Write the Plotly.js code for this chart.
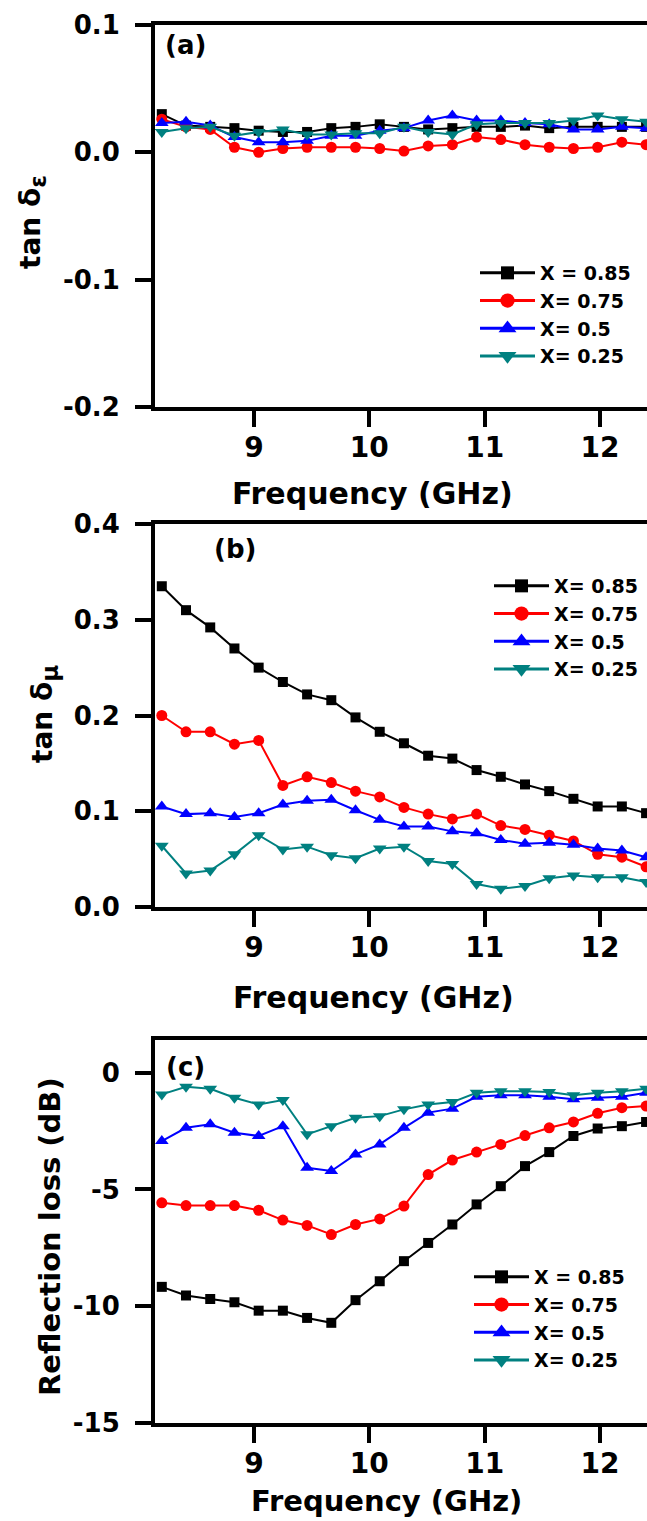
<!DOCTYPE html>
<html><head><meta charset="utf-8">
<script src="https://cdn.plot.ly/plotly-3.0.1.min.js"></script>
<style>html,body{margin:0;padding:0;background:#fff}#chart{width:647px;height:1521px}</style>
</head><body><div id="chart"></div>
<script>
// Frequency (GHz)
const freq = [8.2, 8.41, 8.62, 8.83, 9.04, 9.25, 9.46, 9.67, 9.88, 10.09, 10.3, 10.51, 10.72, 10.93, 11.14, 11.35, 11.56, 11.77, 11.98, 12.19, 12.4];

// Panel (a): dielectric loss tangent tan δε
const tanE_x085 = [0.030, 0.021, 0.020, 0.019, 0.017, 0.016, 0.016, 0.019, 0.020, 0.022, 0.020, 0.018, 0.019, 0.020, 0.020, 0.021, 0.019, 0.020, 0.020, 0.020, 0.020];
const tanE_x075 = [0.026, 0.020, 0.018, 0.004, 0.000, 0.003, 0.004, 0.004, 0.004, 0.003, 0.001, 0.005, 0.006, 0.012, 0.010, 0.006, 0.004, 0.003, 0.004, 0.008, 0.006];
const tanE_x050 = [0.023, 0.024, 0.021, 0.012, 0.008, 0.008, 0.009, 0.013, 0.013, 0.017, 0.019, 0.025, 0.029, 0.025, 0.025, 0.023, 0.022, 0.018, 0.018, 0.020, 0.019];
const tanE_x025 = [0.016, 0.019, 0.020, 0.013, 0.016, 0.018, 0.014, 0.014, 0.015, 0.015, 0.020, 0.016, 0.014, 0.022, 0.023, 0.023, 0.023, 0.025, 0.029, 0.026, 0.024];

// Panel (b): magnetic loss tangent tan δμ
const tanM_x085 = [0.335, 0.310, 0.292, 0.270, 0.250, 0.235, 0.222, 0.216, 0.198, 0.183, 0.171, 0.158, 0.155, 0.143, 0.136, 0.128, 0.121, 0.113, 0.105, 0.105, 0.098];
const tanM_x075 = [0.200, 0.183, 0.183, 0.170, 0.174, 0.127, 0.136, 0.130, 0.121, 0.115, 0.104, 0.097, 0.092, 0.097, 0.085, 0.081, 0.075, 0.069, 0.055, 0.052, 0.042];
const tanM_x050 = [0.105, 0.097, 0.098, 0.094, 0.098, 0.107, 0.111, 0.112, 0.101, 0.091, 0.084, 0.084, 0.079, 0.077, 0.070, 0.066, 0.067, 0.065, 0.061, 0.059, 0.052];
const tanM_x025 = [0.064, 0.035, 0.038, 0.055, 0.075, 0.060, 0.063, 0.054, 0.051, 0.061, 0.063, 0.048, 0.045, 0.024, 0.019, 0.022, 0.030, 0.033, 0.031, 0.031, 0.026];

// Panel (c): reflection loss (dB)
const rl_x085 = [-9.17, -9.54, -9.69, -9.83, -10.19, -10.19, -10.50, -10.71, -9.74, -8.93, -8.07, -7.29, -6.50, -5.64, -4.86, -4.00, -3.40, -2.71, -2.39, -2.29, -2.11];
const rl_x075 = [-5.57, -5.69, -5.69, -5.69, -5.89, -6.31, -6.54, -6.93, -6.50, -6.26, -5.71, -4.36, -3.74, -3.40, -3.07, -2.69, -2.36, -2.11, -1.74, -1.50, -1.43];
const rl_x050 = [-2.93, -2.36, -2.21, -2.57, -2.71, -2.29, -4.07, -4.21, -3.50, -3.07, -2.36, -1.71, -1.54, -1.03, -0.97, -0.97, -1.03, -1.14, -1.07, -1.03, -0.86];
const rl_x025 = [-0.93, -0.60, -0.69, -1.07, -1.36, -1.17, -2.64, -2.29, -1.93, -1.86, -1.57, -1.36, -1.26, -0.86, -0.79, -0.79, -0.83, -0.97, -0.86, -0.79, -0.69];

// Legend labels (as printed in each panel)
const namesA = ["X = 0.85", "X= 0.75", "X= 0.5", "X= 0.25"];
const namesB = ["X= 0.85", "X= 0.75", "X= 0.5", "X= 0.25"];
const namesC = ["X = 0.85", "X= 0.75", "X= 0.5", "X= 0.25"];

// Tick labels
const xTickVals = [9, 10, 11, 12];
const xTickText = ["9", "10", "11", "12"];
const yTickValsA = [0.1, 0.0, -0.1, -0.2];
const yTickTextA = ["0.1", "0.0", "-0.1", "-0.2"];
const yTickValsB = [0.4, 0.3, 0.2, 0.1, 0.0];
const yTickTextB = ["0.4", "0.3", "0.2", "0.1", "0.0"];
const yTickValsC = [0, -5, -10, -15];
const yTickTextC = ["0", "-5", "-10", "-15"];

const colors = ["#000000", "#ff0000", "#0000ff", "#008080"];
const symbols = ["square", "circle", "triangle-up", "triangle-down"];
const msizes = [10, 11, 12, 12];

const W = 647, H = 1521;
const px = v => v / W;
const py = v => 1 - v / H;

const FONT = "DejaVu Sans, Liberation Sans, Arial, sans-serif";

const panels = [
  {ys: [tanE_x085, tanE_x075, tanE_x050, tanE_x025], names: namesA, xa: "x", ya: "y", lg: "legend"},
  {ys: [tanM_x085, tanM_x075, tanM_x050, tanM_x025], names: namesB, xa: "x2", ya: "y2", lg: "legend2"},
  {ys: [rl_x085, rl_x075, rl_x050, rl_x025], names: namesC, xa: "x3", ya: "y3", lg: "legend3"}
];

const traces = [];
panels.forEach(p => {
  p.ys.forEach((y, i) => {
    traces.push({
      x: freq, y: y, type: "scatter", mode: "lines+markers",
      name: p.names[i], xaxis: p.xa, yaxis: p.ya, legend: p.lg,
      line: {color: colors[i], width: 2},
      marker: {symbol: symbols[i], size: msizes[i], color: colors[i], line: {width: 0}},
      cliponaxis: true
    });
  });
});

const xRange = [8.141, 12.408];
function xAxis(anchor) {
  return {
    anchor: anchor, domain: [px(155), 1], range: xRange,
    tickmode: "array", tickvals: xTickVals, ticktext: xTickText,
    showline: true, linewidth: 4, linecolor: "#000", mirror: true,
    ticks: "outside", ticklen: 16, tickwidth: 4, tickcolor: "#000",
    ticklabelstandoff: -4,
    tickfont: {family: FONT, size: 28, color: "#000", weight: "bold"},
    showgrid: false, zeroline: false, fixedrange: true
  };
}
function yAxis(anchor, dom, range, tv, tt) {
  return {
    anchor: anchor, domain: dom, range: range,
    tickmode: "array", tickvals: tv, ticktext: tt,
    showline: true, linewidth: 4, linecolor: "#000", mirror: false,
    ticks: "outside", ticklen: 16, tickwidth: 4, tickcolor: "#000",
    ticklabelstandoff: 10,
    tickfont: {family: FONT, size: 26, color: "#000", weight: "bold"},
    showgrid: false, zeroline: false, fixedrange: true
  };
}

function legend(left, top) {
  return {
    x: px(left), y: py(top), xanchor: "left", yanchor: "top",
    bgcolor: "rgba(0,0,0,0)", borderwidth: 0,
    font: {family: FONT, size: 19, color: "#000", weight: "bold"},
    itemwidth: 50, tracegroupgap: 0
  };
}

function ann(text, x, y, size, angle, yanchor) {
  return {
    text: text, xref: "paper", yref: "paper", x: px(x), y: py(y),
    xanchor: "center", yanchor: yanchor || "middle", showarrow: false,
    textangle: angle || 0,
    font: {family: FONT, size: size, color: "#000", weight: "bold"}
  };
}

const layout = {
  width: W, height: H,
  margin: {l: 0, r: 0, t: 0, b: 0},
  paper_bgcolor: "#fff", plot_bgcolor: "#fff",
  showlegend: true,
  xaxis: xAxis("y"),
  yaxis: yAxis("x", [py(407), py(25)], [-0.2, 0.1], yTickValsA, yTickTextA),
  xaxis2: xAxis("y2"),
  yaxis2: yAxis("x2", [py(907), py(524)], [0, 0.4], yTickValsB, yTickTextB),
  xaxis3: xAxis("y3"),
  yaxis3: yAxis("x3", [py(1423), py(1040)], [-15, 1.4], yTickValsC, yTickTextC),
  legend: legend(480, 254),
  legend2: legend(494, 567),
  legend3: legend(474, 1258),
  annotations: [
    ann("(a)", 185, 45, 26),
    ann("(b)", 235, 549, 26),
    ann("(c)", 185, 1067, 26),
    ann("Frequency (GHz)", 372, 493, 30),
    ann("Frequency (GHz)", 374, 997, 30),
    ann("Frequency (GHz)", 386, 1520, 29, 0, "bottom"),
    ann("tan δ<sub><span style='font-size:23px'>ε</span></sub>", 33, 222, 28, -90),
    ann("tan δ<sub><span style='font-size:23px'>μ</span></sub>", 45, 714, 28, -90),
    ann("Reflection loss (dB)", 50, 1237, 29, -90)
  ]
};

const gd = document.getElementById("chart");
// lengthen legend sample lines and enlarge legend symbols to match the figure's key
function setAttr(el, name, val) {
  if (el.getAttribute(name) !== val) el.setAttribute(name, val);
}
function fixLegends() {
  gd.querySelectorAll("g.traces").forEach(tr => {
    const txt = tr.querySelector("text");
    const T = (txt && parseFloat(txt.getAttribute("x"))) || 60;
    const L = 55, gap = 5;
    const x0 = T - gap - L;
    tr.querySelectorAll(".legendlines path").forEach(line => {
      setAttr(line, "d", "M" + x0 + ",0h" + L);
      if (line.style.strokeWidth !== "3px") line.style.strokeWidth = "3px";
    });
    tr.querySelectorAll(".legendpoints path").forEach(p => {
      setAttr(p, "transform", "translate(" + (x0 + L / 2) + ",0) scale(1.3)");
    });
  });
}
const obs = new MutationObserver(fixLegends);
obs.observe(gd, {childList: true, subtree: true, attributes: true, attributeFilter: ["d", "transform", "style"]});
Plotly.newPlot(gd, traces, layout, {staticPlot: true, displayModeBar: false}).then(() => {
  fixLegends();
  setTimeout(fixLegends, 30);
  setTimeout(fixLegends, 200);
});
</script>
</body></html>
